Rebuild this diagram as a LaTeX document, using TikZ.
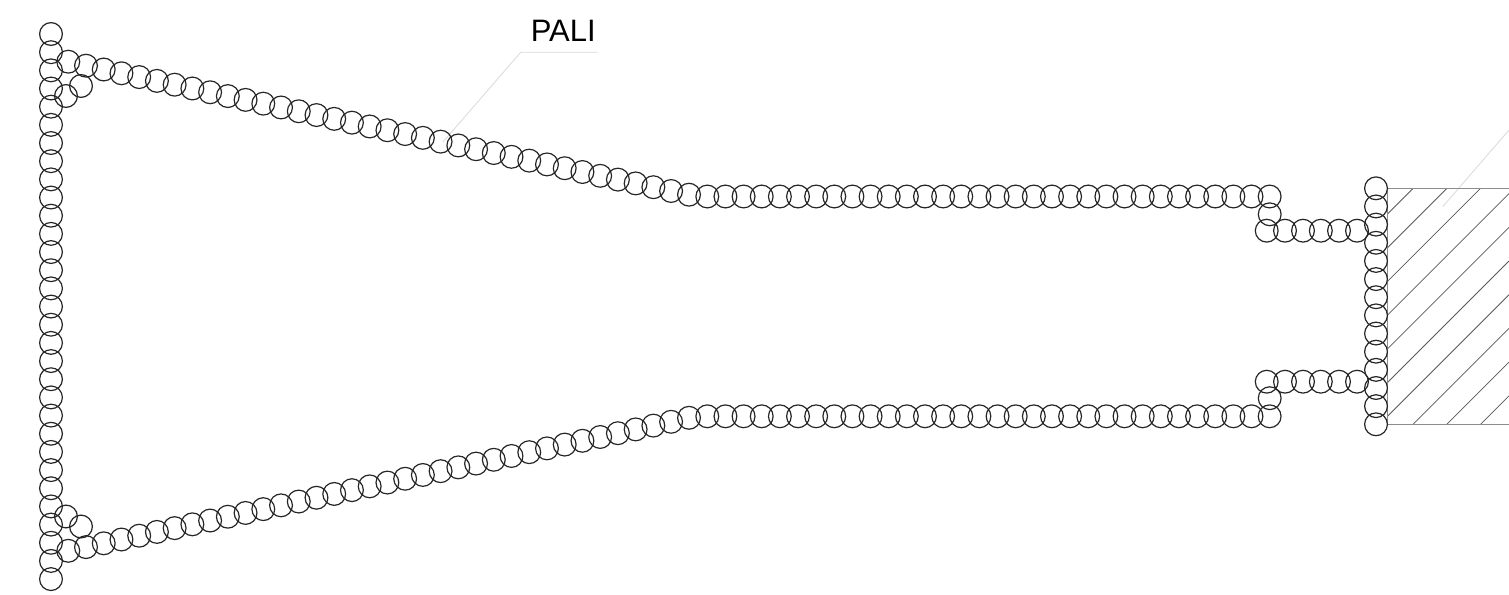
\documentclass[tikz,border=0pt]{standalone}
\usepackage{fontspec}
\setmainfont{Liberation Sans}
\tikzset{
  ring/.style={draw=black!85,line width=1.2pt},
  hatchline/.style={draw=black!65,line width=0.75pt},
  wall/.style={draw=black!45,line width=1.1pt},
  leader/.style={draw=black!15,line width=0.8pt},
}
\newcommand{\ringat}[2]{\draw[ring] (#1,#2) circle[radius=11.4];}
\begin{document}
\begin{tikzpicture}[x=1pt,y=-1pt]
\useasboundingbox (0,0) rectangle (1509,594);
% leaders
\coordinate (palielbow) at (520.7,52.3);
\coordinate (paliend) at (597.7,52.3);
\coordinate (palitip) at (442.7,142.3);
\draw[leader] (palitip) -- (palielbow) -- (paliend);
\coordinate (righttip) at (1442.7,206.7);
\coordinate (rightend) at (1509,130);
\draw[leader] (righttip) -- (rightend);
% hatch block
\begin{scope}
\clip (1387.7,188.3) rectangle (1509,424.2);
\foreach \k in {0,...,12}{
  \pgfmathsetmacro{\s}{1601.5+33.7*\k}
  \draw[hatchline] (1387.7,\s-1387.7) -- (1509,\s-1509);
}
\end{scope}
\draw[wall] (1509,188.3) -- (1387.7,188.3) -- (1387.7,424.2) -- (1509,424.2);
% left column
\foreach \k in {0,...,30}{
  \pgfmathsetmacro{\y}{34+18.17*\k}
  \ringat{51}{\y}
}
% right column
\foreach \k in {0,...,13}{
  \pgfmathsetmacro{\y}{188.3+18.154*\k}
  \ringat{1376}{\y}
}
% tapered chains
\foreach \k in {0,...,33}{
  \pgfmathsetmacro{\x}{86+17.73*\k}
  \pgfmathsetmacro{\y}{65.7+3.797*\k}
  \pgfmathsetmacro{\z}{612.8-\y}
  \ringat{\x}{\y}
  \ringat{\x}{\z}
}
% straight runs
\foreach \k in {0,...,31}{
  \pgfmathsetmacro{\x}{707.3+18.14*\k}
  \ringat{\x}{196.5}
  \ringat{\x}{416.3}
}
% transition and corner rings
\foreach \x/\y in {689/194.7,68.3/61.7,81/86,66/96,1269.7/214.3}{
  \pgfmathsetmacro{\z}{612.5-\y}
  \ringat{\x}{\y}
  \ringat{\x}{\z}
}
% neck
\foreach \x in {1266.7,1285,1303,1320.8,1339,1357}{
  \ringat{\x}{230.7}
  \ringat{\x}{381.7}
}
\node[anchor=base west,inner sep=0pt,font=\fontsize{31}{31}\selectfont] (pali) at (530.6,41.5) {PALI};
\end{tikzpicture}
\end{document}
